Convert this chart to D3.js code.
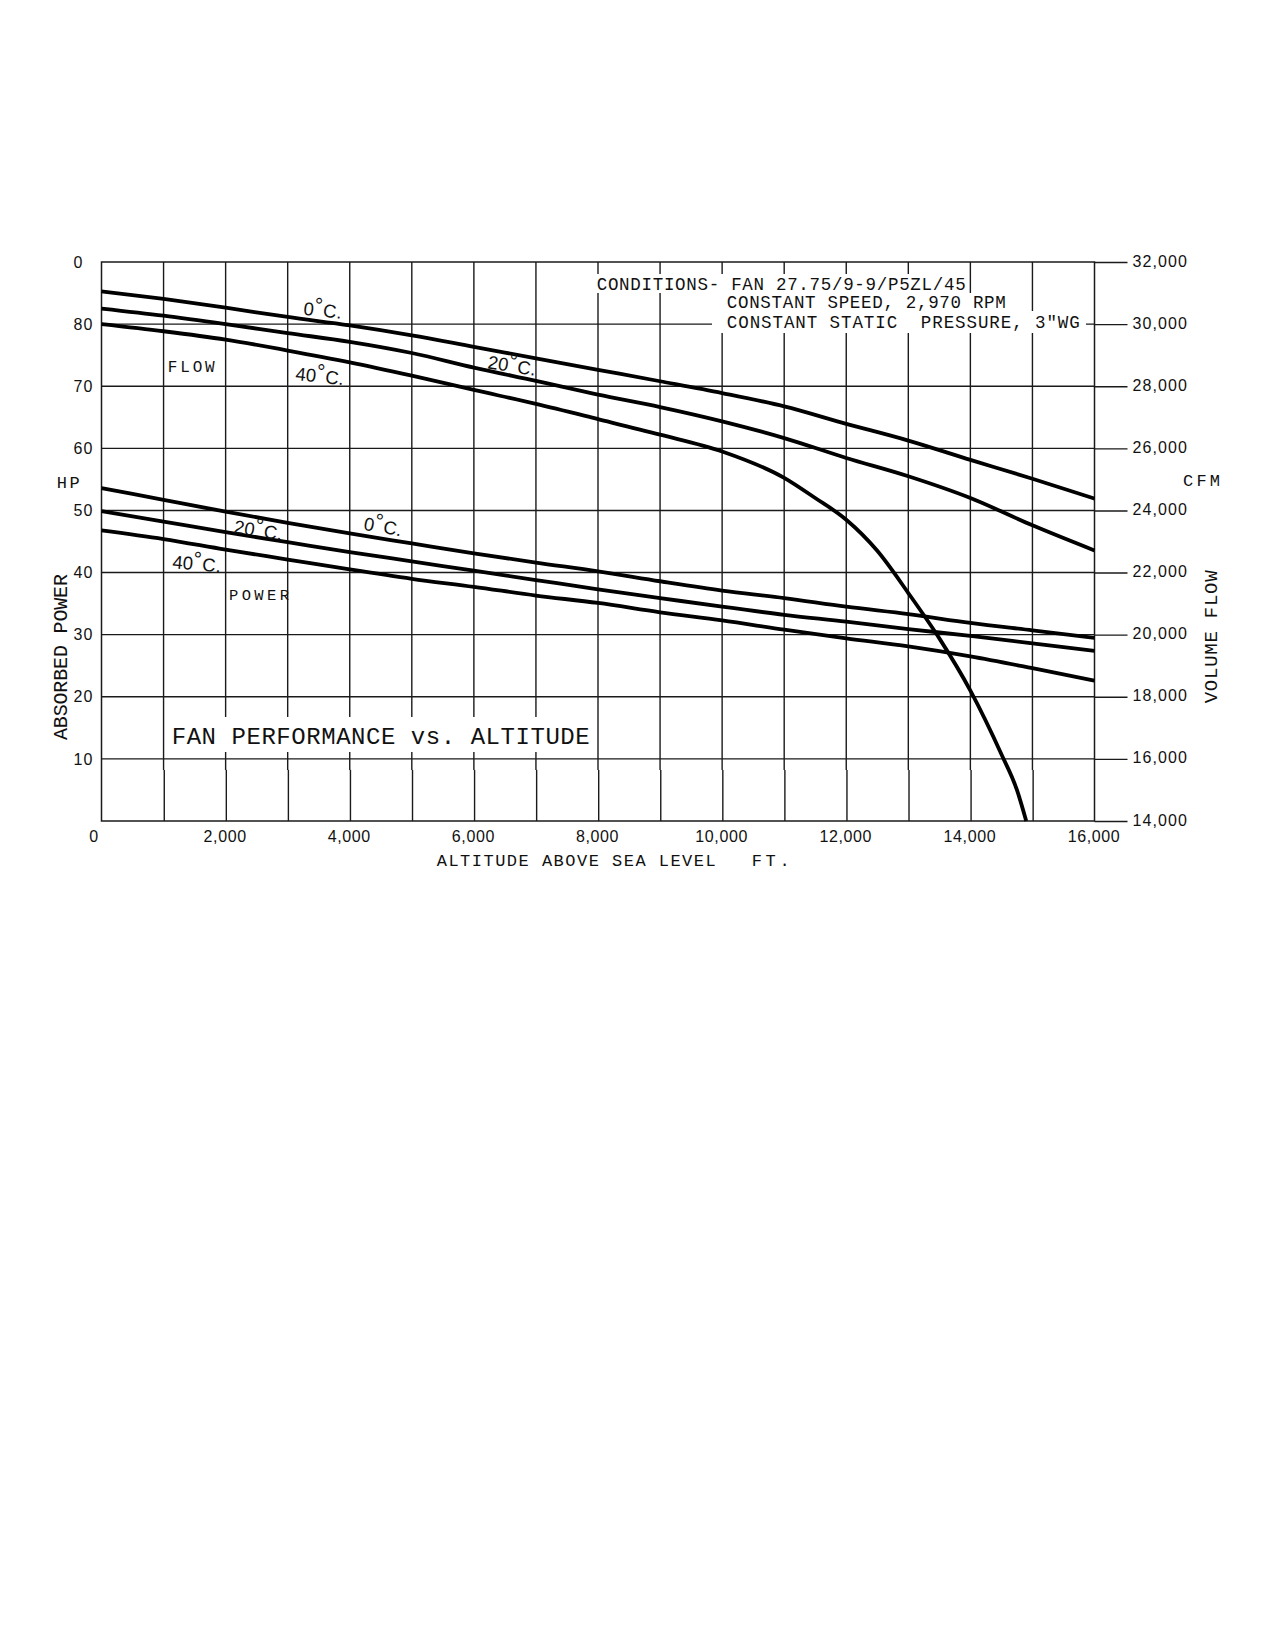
<!DOCTYPE html>
<html>
<head>
<meta charset="utf-8">
<title>Fan performance vs. altitude</title>
<script src="https://cdn.jsdelivr.net/npm/d3@7"></script>
<style>
  body { margin: 0; background: #fff; }
  text { font-family: "Liberation Sans", "DejaVu Sans", sans-serif; fill: #111; }
  text.mono { font-family: "Liberation Mono", "DejaVu Sans Mono", monospace; }
</style>
</head>
<body>
<div id="chart"></div>
<script>
// altitude steps (ft) shared by most curves
var altitudes = [0, 1000, 2000, 3000, 4000, 5000, 6000, 7000, 8000, 9000, 10000, 11000, 12000, 13000, 14000, 15000, 16000];

// volume flow, CFM
var flow0C  = [31055, 30810, 30530, 30230, 29960, 29640, 29270, 28900, 28530, 28160, 27780, 27350, 26790, 26250, 25630, 25020, 24380];
var flow20C = [30500, 30270, 30000, 29710, 29430, 29070, 28600, 28170, 27730, 27330, 26870, 26330, 25690, 25100, 24400, 23520, 22710];
// 40 C flow drops off the bottom of the chart, so it has its own altitude steps
var flow40CAlt = [0, 1000, 2000, 3000, 4000, 5000, 6000, 7000, 8000, 9000, 10000, 11000, 11500, 12000, 12500, 13000, 13500, 14000, 14500, 14750, 14900];
var flow40C    = [30000, 29770, 29500, 29150, 28770, 28340, 27880, 27430, 26940, 26440, 25900, 25050, 24400, 23700, 22700, 21340, 19880, 18200, 16150, 15000, 14000];

// absorbed power, HP
var power0C  = [53.6, 51.7, 49.8, 48.0, 46.3, 44.7, 43.1, 41.6, 40.2, 38.6, 37.1, 35.9, 34.5, 33.3, 31.9, 30.7, 29.5];
var power20C = [49.9, 48.2, 46.5, 44.9, 43.3, 41.8, 40.3, 38.8, 37.3, 35.9, 34.5, 33.2, 32.1, 30.9, 29.8, 28.6, 27.4];
var power40C = [46.8, 45.4, 43.7, 42.1, 40.5, 39.0, 37.7, 36.3, 35.1, 33.6, 32.3, 30.8, 29.4, 28.1, 26.5, 24.6, 22.6];

// ticks
var hpTicks  = [90, 80, 70, 60, 50, 40, 30, 20, 10];
var hpLabels = ["0", "80", "70", "60", "50", "40", "30", "20", "10"];
var cfmTicks = [14000, 16000, 18000, 20000, 22000, 24000, 26000, 28000, 30000, 32000];
var altTicks = [0, 2000, 4000, 6000, 8000, 10000, 12000, 14000, 16000];
var gridAlt  = [1000, 2000, 3000, 4000, 5000, 6000, 7000, 8000, 9000, 10000, 11000, 12000, 13000, 14000, 15000];
var gridHp   = [10, 20, 30, 40, 50, 60, 70, 80];

var conditions = ["CONDITIONS- FAN 27.75/9-9/P5ZL/45", "CONSTANT SPEED, 2,970 RPM", "CONSTANT STATIC  PRESSURE, 3\u2033WG"];

function FanChart() {
  var W = 1275, H = 1650;
  var margin = {top: 262, right: 180.5, bottom: 829, left: 101.5};
  var w = W - margin.left - margin.right;
  var h = H - margin.top - margin.bottom;
  var gridColor = "#1a1a1a";

  var svg = d3.select("#chart")
    .append("svg")
    .attr("width", W)
    .attr("height", H)
    .style("background", "#fff");

  var g = svg.append("g")
    .attr("transform", "translate(" + margin.left + "," + margin.top + ")");

  var xScale = d3.scaleLinear().domain([0, 16000]).range([0, w]);
  var hpScale = d3.scaleLinear().domain([0, 90]).range([h, 0]);
  var cfmScale = d3.scaleLinear().domain([14000, 32000]).range([h, 0]);

  //vertical grid, drawn in two pieces with a small jog near the bottom like the drawing
  var yBreak = hpScale(10) + 11;
  g.selectAll(".vgrid-top")
    .data(gridAlt)
    .enter()
    .append("line")
    .attr("class", "vgrid-top")
    .attr("x1", (d) => xScale(d))
    .attr("x2", (d) => xScale(d))
    .attr("y1", 0)
    .attr("y2", yBreak)
    .attr("stroke", gridColor)
    .attr("stroke-width", 1.4);

  g.selectAll(".vgrid-low")
    .data(gridAlt)
    .enter()
    .append("line")
    .attr("class", "vgrid-low")
    .attr("x1", (d) => xScale(d) + 0.7)
    .attr("x2", (d) => xScale(d) + 0.7)
    .attr("y1", yBreak)
    .attr("y2", h)
    .attr("stroke", gridColor)
    .attr("stroke-width", 1.4);

  //horizontal grid
  g.selectAll(".hgrid")
    .data(gridHp)
    .enter()
    .append("line")
    .attr("class", "hgrid")
    .attr("x1", 0)
    .attr("x2", w)
    .attr("y1", (d) => hpScale(d))
    .attr("y2", (d) => hpScale(d))
    .attr("stroke", gridColor)
    .attr("stroke-width", 1.4);

  //frame
  g.append("rect")
    .attr("x", 0)
    .attr("y", 0)
    .attr("width", w)
    .attr("height", h)
    .attr("fill", "none")
    .attr("stroke", gridColor)
    .attr("stroke-width", 1.5);

  //left axis (HP)
  var yAxis = d3.axisLeft(hpScale)
    .tickValues(hpTicks)
    .tickFormat((d, i) => hpLabels[i])
    .tickSize(0);
  var yAxisG = g.append("g").attr("id", "y-axis").call(yAxis);
  yAxisG.select(".domain").remove();
  yAxisG.selectAll("text")
    .attr("x", 73.5 - margin.left)
    .attr("text-anchor", "start")
    .attr("font-size", 16)
    .attr("letter-spacing", 1);

  //right axis (CFM)
  var cfmAxis = d3.axisRight(cfmScale)
    .tickValues(cfmTicks)
    .tickFormat(d3.format(","))
    .tickSize(33)
    .tickPadding(5);
  var cfmAxisG = g.append("g")
    .attr("id", "cfm-axis")
    .attr("transform", "translate(" + w + ",0)")
    .call(cfmAxis);
  cfmAxisG.select(".domain").remove();
  cfmAxisG.selectAll(".tick line").attr("stroke", gridColor).attr("stroke-width", 1.4);
  cfmAxisG.selectAll("text")
    .attr("font-size", 16)
    .attr("letter-spacing", 1.1)
    .attr("dy", "0.25em");

  //bottom axis (altitude)
  var xAxis = d3.axisBottom(xScale)
    .tickValues(altTicks)
    .tickFormat((d) => d3.format(",")(d))
    .tickSize(0);
  var xAxisG = g.append("g")
    .attr("id", "x-axis")
    .attr("transform", "translate(0," + h + ")")
    .call(xAxis);
  xAxisG.select(".domain").remove();
  xAxisG.selectAll("text")
    .attr("font-size", 16)
    .attr("letter-spacing", 0.6)
    .attr("y", 20.7)
    .attr("dy", 0)
    .attr("dx", (d) => d === 0 ? -8 : -1);

  //white boxes behind the notes, the grid breaks around them
  svg.append("rect").attr("x", 594).attr("y", 274).attr("width", 372).attr("height", 19).attr("fill", "#fff");
  svg.append("rect").attr("x", 716).attr("y", 293).attr("width", 290).attr("height", 18).attr("fill", "#fff");
  svg.append("rect").attr("x", 712).attr("y", 311).attr("width", 374).attr("height", 22).attr("fill", "#fff");
  svg.append("rect").attr("x", 169).attr("y", 717).attr("width", 421).attr("height", 35).attr("fill", "#fff");

  //curves
  var flowLine = d3.line()
    .x((d) => xScale(d[0]))
    .y((d) => cfmScale(d[1]))
    .curve(d3.curveMonotoneX);
  var powerLine = d3.line()
    .x((d) => xScale(d[0]))
    .y((d) => hpScale(d[1]))
    .curve(d3.curveMonotoneX);

  var flowSets = [d3.zip(altitudes, flow0C), d3.zip(altitudes, flow20C), d3.zip(flow40CAlt, flow40C)];
  var powerSets = [d3.zip(altitudes, power0C), d3.zip(altitudes, power20C), d3.zip(altitudes, power40C)];

  g.selectAll(".flow")
    .data(flowSets)
    .enter()
    .append("path")
    .attr("class", "flow")
    .attr("d", flowLine)
    .attr("fill", "none")
    .attr("stroke", "#000")
    .attr("stroke-width", 3.8)
    .attr("stroke-linejoin", "round");

  g.selectAll(".power")
    .data(powerSets)
    .enter()
    .append("path")
    .attr("class", "power")
    .attr("d", powerLine)
    .attr("fill", "none")
    .attr("stroke", "#000")
    .attr("stroke-width", 3.8)
    .attr("stroke-linejoin", "round");

  //temperature labels on the curves
  function tempLabel(num, alt, hp, angle) {
    var t = g.append("text")
      .attr("transform", "translate(" + xScale(alt) + "," + hpScale(hp) + ") rotate(" + angle + ")")
      .attr("font-size", 18.5);
    t.append("tspan").text(num);
    t.append("tspan").attr("dy", -4).attr("font-size", 21).text("\u00b0");
    t.append("tspan").attr("dy", 4).attr("dx", 1).text("C.");
  }
  tempLabel("0", 3247, 81.5, 6);
  tempLabel("40", 3118, 71.0, 6);
  tempLabel("20", 6211, 72.9, 9);
  tempLabel("20", 2124, 46.4, 9);
  tempLabel("0", 4214, 46.9, 10);
  tempLabel("40", 1136, 40.7, 5);

  //plain text notes, monospace keeps the even drafting letter spacing
  function note(str, x, y, size, len) {
    return svg.append("text")
      .attr("class", "mono")
      .attr("x", x)
      .attr("y", y)
      .attr("font-size", size)
      .attr("textLength", len)
      .attr("lengthAdjust", "spacing")
      .style("white-space", "pre")
      .text(str);
  }

  note("FLOW", margin.left + xScale(1067), margin.top + hpScale(72.34), 16, 47);
  note("POWER", margin.left + xScale(2054), margin.top + hpScale(35.58), 15.5, 60);

  //conditions note
  var condX = [596.7, 726.8, 726.8];
  var condY = [290, 308.3, 328.3];
  var condLen = [369, 279, 353];
  conditions.forEach(function (c, i) {
    note(c, condX[i], condY[i], 17.5, condLen[i]);
  });

  //title
  note("FAN PERFORMANCE vs. ALTITUDE", 171.7, 744.3, 24, 418);

  //axis titles
  note("ALTITUDE ABOVE SEA LEVEL", 436.7, 866, 17, 279);
  note("FT.", 751.7, 866, 17, 38);
  note("HP", 56.7, 488.3, 17, 23);
  note("CFM", 1183, 486, 17, 37);

  note("ABSORBED POWER", 0, 0, 20, 166)
    .attr("transform", "translate(66.8,740) rotate(-90)");
  note("VOLUME FLOW", 0, 0, 19, 133)
    .attr("transform", "translate(1217.3,703.3) rotate(-90)");
}

function main() {
  FanChart();
}

window.onload = function () {
  main();
};
</script>
</body>
</html>
